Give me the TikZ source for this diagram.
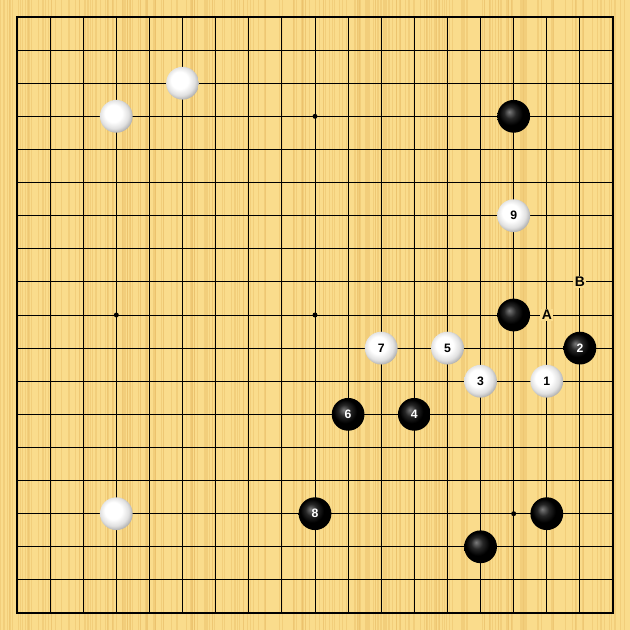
\documentclass[tikz,border=0pt]{standalone}
\usepackage{fontspec}
\setmainfont{Liberation Sans}
\definecolor{board}{RGB}{250,220,140}
\definecolor{grain}{RGB}{236,194,108}
\pgfdeclareradialshading{whiteball}{\pgfqpoint{-6bp}{6bp}}{color(0bp)=(white); color(13bp)=(white); color(22bp)=(black!12); color(30bp)=(black!38); color(50bp)=(black!38)}
\pgfdeclareradialshading{blackball}{\pgfqpoint{-7bp}{7bp}}{color(0bp)=(black!52); color(9bp)=(black!85); color(18bp)=(black); color(50bp)=(black)}
\tikzset{
	stone/.style = {circle, minimum size = 0.99cm, inner sep = 0pt, font = \bfseries\fontsize{10.5}{12}\selectfont},
	whitestone/.style = {stone, shading = whiteball, text = black},
	blackstone/.style = {stone, shading = blackball, text = white},
	hoshi/.style = {circle, fill = black, minimum size = 0.15cm, inner sep = 0pt},
	boardlabel/.style = {fill = board, inner sep = 1.2pt, font = \bfseries\fontsize{12}{14}\selectfont}
}

\begin{document}
\begin{tikzpicture}[y = -1cm]
	\useasboundingbox (-0.513, -0.513) rectangle (18.513, 18.513);
	\fill[board] (-0.513, -0.513) rectangle (18.513, 18.513);
	\pgfmathsetseed{11}
	\foreach \k in {1,...,260}{
		\pgfmathsetmacro\gx{rnd*19.03 - 0.513}
		\draw[grain, line width = 0.5pt, opacity = 0.5] (\gx, -0.513) -- (\gx, 18.513);
	}

	% grid
	\foreach \i in {1,...,17}{
		\draw[line width = 0.85pt] (\i, 0) -- (\i, 18);
		\draw[line width = 0.85pt] (0, \i) -- (18, \i);
	}
	\draw[line width = 1.2pt] (0, 0) rectangle (18, 18);
	\foreach \x in {3, 9, 15}
		\foreach \y in {3, 9, 15}
			\node[hoshi] (h\x\y) at (\x, \y) {};

	% stones without numbers
	\node[whitestone] (w1) at (5, 2) {};
	\node[whitestone] (w2) at (3, 3) {};
	\node[whitestone] (w3) at (3, 15) {};
	\node[blackstone] (b1) at (15, 3) {};
	\node[blackstone] (b2) at (15, 9) {};
	\node[blackstone] (b3) at (16, 15) {};
	\node[blackstone] (b4) at (14, 16) {};

	% numbered moves
	\foreach \n/\x/\y/\col in {1/16/11/white, 2/17/10/black, 3/14/11/white, 4/12/12/black, 5/13/10/white, 6/10/12/black, 7/11/10/white, 8/9/15/black, 9/15/6/white}
		\node[\col stone] (m\n) at (\x, \y) {\n};

	% marked points
	\node[boardlabel] (ptA) at (16, 9) {A};
	\node[boardlabel] (ptB) at (17, 8) {B};
\end{tikzpicture}
\end{document}
